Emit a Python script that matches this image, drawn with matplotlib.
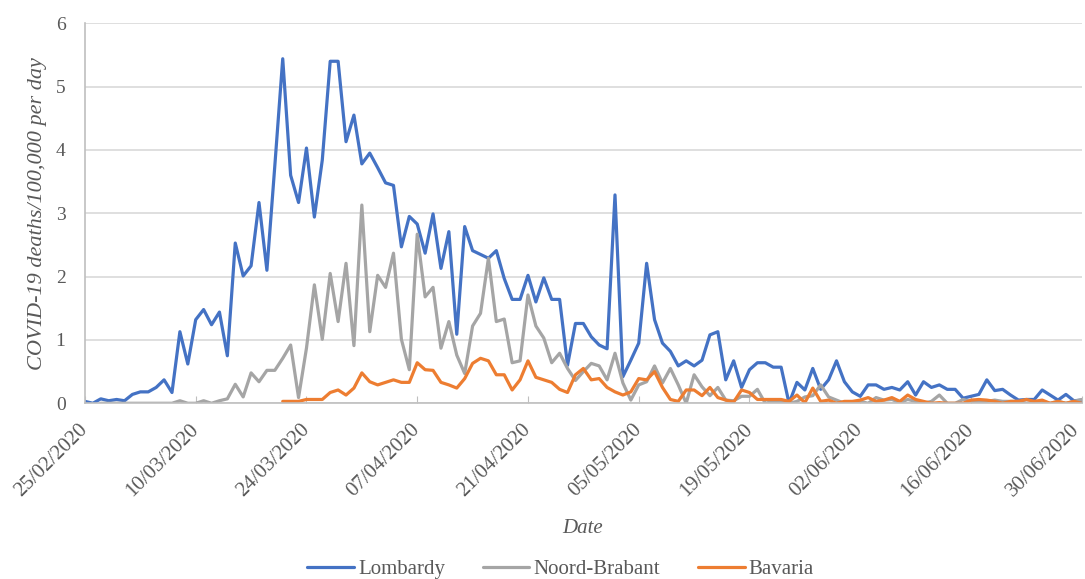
import matplotlib
matplotlib.use("Agg")
import matplotlib.pyplot as plt
import matplotlib.transforms as mtransforms
import numpy as np
import pandas as pd

start_date = "2020-02-25"
end_date = "2020-06-30"

lombardy = [0.03, 0.0, 0.07, 0.04, 0.06, 0.04, 0.14, 0.18, 0.18, 0.25,
            0.37, 0.17, 1.13, 0.62, 1.32, 1.48, 1.24, 1.44, 0.75, 2.53,
            2.01, 2.17, 3.17, 2.10, 3.75, 5.44, 3.60, 3.17, 4.03, 2.94,
            3.84, 5.40, 5.40, 4.13, 4.55, 3.78, 3.95, 3.72, 3.48, 3.44,
            2.47, 2.95, 2.83, 2.37, 2.99, 2.13, 2.71, 1.09, 2.79, 2.41,
            2.35, 2.29, 2.41, 1.97, 1.64, 1.64, 2.02, 1.60, 1.98, 1.64,
            1.64, 0.60, 1.26, 1.26, 1.05, 0.92, 0.86, 3.29, 0.42, 0.68,
            0.95, 2.21, 1.32, 0.95, 0.82, 0.59, 0.67, 0.59, 0.68, 1.08,
            1.13, 0.37, 0.67, 0.25, 0.53, 0.64, 0.64, 0.57, 0.57, 0.0,
            0.33, 0.21, 0.55, 0.22, 0.37, 0.67, 0.34, 0.18, 0.11, 0.29,
            0.29, 0.22, 0.25, 0.21, 0.34, 0.13, 0.34, 0.25, 0.29, 0.22,
            0.22, 0.08, 0.11, 0.14, 0.37, 0.20, 0.22, 0.13, 0.05, 0.06,
            0.06, 0.21, 0.13, 0.05, 0.14, 0.04, 0.05]

noord_brabant = [np.nan, np.nan, 0, 0, 0, 0, 0, 0, 0, 0,
                 0, 0, 0.04, 0, 0, 0.04, 0, 0.04, 0.07, 0.30,
                 0.10, 0.48, 0.34, 0.52, 0.52, 0.71, 0.92, 0.09, 0.87, 1.87,
                 1.01, 2.05, 1.29, 2.21, 0.91, 3.13, 1.13, 2.02, 1.83, 2.37,
                 1.01, 0.53, 2.67, 1.68, 1.83, 0.87, 1.29, 0.76, 0.47, 1.22,
                 1.42, 2.29, 1.29, 1.33, 0.64, 0.67, 1.71, 1.22, 1.03, 0.64,
                 0.79, 0.55, 0.36, 0.50, 0.63, 0.59, 0.37, 0.79, 0.32, 0.05,
                 0.29, 0.34, 0.59, 0.32, 0.55, 0.29, 0.0, 0.45, 0.26, 0.12,
                 0.25, 0.05, 0.04, 0.11, 0.11, 0.22, 0.0, 0.03, 0.03, 0.0,
                 0.03, 0.10, 0.12, 0.29, 0.10, 0.05, 0, 0, 0.03, 0,
                 0.09, 0.05, 0.06, 0.01, 0.06, 0.03, 0, 0.03, 0.13, 0,
                 0, 0.06, 0.03, 0.03, 0.03, 0.05, 0.03, 0.03, 0.03, 0,
                 0.01, 0.03, 0, 0.03, 0, 0.03, 0.06]

bavaria = [np.nan] * 25 + [
    0.03, 0.03, 0.03, 0.06, 0.06,
    0.06, 0.17, 0.21, 0.13, 0.24, 0.48, 0.34, 0.29, 0.33, 0.37,
    0.33, 0.33, 0.64, 0.53, 0.52, 0.33, 0.29, 0.24, 0.39, 0.63,
    0.71, 0.67, 0.45, 0.45, 0.21, 0.37, 0.67, 0.41, 0.37, 0.33,
    0.22, 0.17, 0.45, 0.55, 0.37, 0.39, 0.25, 0.18, 0.13, 0.18,
    0.39, 0.37, 0.50, 0.25, 0.06, 0.03, 0.21, 0.21, 0.12, 0.25,
    0.09, 0.05, 0.02, 0.21, 0.17, 0.06, 0.06, 0.06, 0.06, 0.03,
    0.13, 0.01, 0.24, 0.03, 0.05, 0, 0.03, 0.03, 0.05, 0.09,
    0.03, 0.05, 0.09, 0.03, 0.13, 0.06, 0.03, 0.0, 0.01, 0,
    0, 0, 0.05, 0.06, 0.05, 0.03, 0, 0.03, 0.03, 0.06,
    0.03, 0.05, 0, 0.03, 0, 0.03, 0]

tick_labels = ["25/02/2020", "10/03/2020", "24/03/2020", "07/04/2020",
               "21/04/2020", "05/05/2020", "19/05/2020", "02/06/2020",
               "16/06/2020", "30/06/2020"]

series_names = ["Lombardy", "Noord-Brabant", "Bavaria"]
colors = ["#4472C4", "#A5A5A5", "#ED7D31"]

dates = pd.date_range(start_date, end_date, freq="D")
x = np.arange(len(dates))
tick_pos = [int((pd.to_datetime(t, dayfirst=True) - dates[0]).days) for t in tick_labels]

plt.rcParams['font.family'] = ['Liberation Serif', 'DejaVu Serif']
text_color = "#595959"

fig = plt.figure(figsize=(10.85, 5.79), dpi=100)
ax = fig.add_axes([0.0783, 0.3035, 0.9187, 0.6563])

for vals, name, c in zip([lombardy, noord_brabant, bavaria], series_names, colors):
    ax.plot(x, vals, color=c, lw=2.3, label=name, solid_joinstyle='round', solid_capstyle='round')

ax.set_xlim(0, len(dates) - 1)
ax.set_ylim(0, 6)
ax.set_yticks(range(0, 7))
ax.grid(axis='y', color="#D9D9D9", lw=1.2)
ax.set_axisbelow(True)
for s in ['top', 'right']:
    ax.spines[s].set_visible(False)
ax.spines['left'].set_color("#BFBFBF")
ax.spines['left'].set_linewidth(1.2)
ax.spines['bottom'].set_color("#BFBFBF")
ax.spines['bottom'].set_linewidth(1.2)

ax.set_xticks(tick_pos)
ax.set_xticklabels(tick_labels, rotation=45, ha='right', va='center', rotation_mode='anchor')
ax.tick_params(axis='x', direction='in', length=5, color="#BFBFBF", labelsize=15,
               labelcolor=text_color, pad=17)
ax.tick_params(axis='y', length=0, labelsize=14, labelcolor=text_color, pad=14)

# nudge the last date label inward so it stays inside the canvas
last_lbl = ax.get_xticklabels()[-1]
last_lbl.set_transform(last_lbl.get_transform() +
                       mtransforms.ScaledTranslation(-5 / 100, 0, fig.dpi_scale_trans))

ax.set_ylabel("COVID-19 deaths/100,000 per day", style='italic', fontsize=16,
              color=text_color, labelpad=6)
fig.text(0.537, 0.088, "Date", style='italic', fontsize=15, color=text_color,
         ha='center', va='center')

leg = fig.legend(loc='center', bbox_to_anchor=(0.5166, 0.017), ncol=3, frameon=False,
                 fontsize=15, handlelength=2.25, columnspacing=1.8, handletextpad=0.2)
for t in leg.get_texts():
    t.set_color(text_color)

fig.savefig("out.png", dpi=100)
